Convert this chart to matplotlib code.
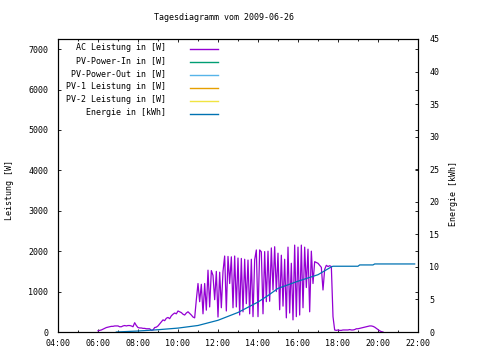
import numpy as np
import matplotlib
matplotlib.use("Agg")
import matplotlib.pyplot as plt
from matplotlib.lines import Line2D
from matplotlib.ticker import MultipleLocator, FuncFormatter

# AC power in W, one value every 5 minutes from 06:00 to 20:15
ac_start_hour = 6.0
ac_watts = [
    30, 40, 50, 70, 90, 110, 120, 130, 140, 140, 150, 150,            # 06
    150, 130, 130, 150, 160, 150, 160, 160, 150, 130, 230, 160,       # 07
    110, 100, 100, 90, 90, 80, 80, 80, 40, 50, 110, 120,              # 08
    150, 200, 250, 300, 280, 340, 360, 330, 400, 440, 470, 450,       # 09
    520, 500, 480, 440, 420, 470, 500, 460, 420, 370, 350, 800,       # 10
    1200, 750, 1180, 450, 1200, 540, 1530, 620, 1520, 1400, 800, 1500,  # 11
    370, 1480, 600, 1500, 1880, 520, 1870, 1200, 1860, 600, 1880, 620,  # 12
    1830, 420, 1820, 500, 1800, 700, 1780, 450, 1800, 380, 1790, 2030,  # 13
    380, 2030, 1985, 450, 1990, 750, 2000, 760, 2080, 1040, 2110, 1000,  # 14
    1950, 550, 1900, 640, 1800, 350, 2100, 470, 1700, 300, 2150, 380,   # 15
    2100, 420, 2150, 600, 2100, 1100, 2050, 500, 2000, 1200, 1740, 1720,  # 16
    1700, 1650, 1600, 1040, 1550, 1650, 1620, 1640, 1620, 380, 50, 40,  # 17
    50, 40, 40, 50, 50, 50, 50, 60, 50, 50, 60, 80,                   # 18
    80, 90, 100, 110, 120, 130, 140, 150, 150, 140, 120, 90,          # 19
    60, 30, 10, 0,                                                    # 20
]

# cumulative energy in kWh
energy_times = ["06:55", "08:00", "09:00", "10:00", "11:00", "12:00", "13:00",
                "14:00", "14:30", "15:00", "16:00", "17:00", "17:40", "17:45",
                "19:00", "19:05", "19:45", "19:50", "21:50"]
energy_kwh = [0.0, 0.15, 0.35, 0.6, 1.0, 1.8, 3.0,
              4.6, 5.6, 6.7, 7.8, 8.8, 10.0, 10.1,
              10.1, 10.3, 10.3, 10.45, 10.45]

legend_labels = ["AC Leistung in [W]", "PV-Power-In in [W]", "PV-Power-Out in [W]",
                 "PV-1 Leistung in [W]", "PV-2 Leistung in [W]", "Energie in [kWh]"]
legend_colors = ["#9400d3", "#009e73", "#56b4e9", "#e69f00", "#f0e442", "#0072b2"]


def to_hours(s):
    h, m = s.split(":")
    return int(h) + int(m) / 60.0


ac_hours = ac_start_hour + np.arange(len(ac_watts)) * 5 / 60.0
e_hours = [to_hours(t) for t in energy_times]

W, H = 480, 360
mono = "DejaVu Sans Mono"
fs = 6

fig = plt.figure(figsize=(4.8, 3.6), dpi=100)
ax = fig.add_axes([58 / W, 1 - 332 / H, 360 / W, 293 / H])
ax2 = ax.twinx()

ax.plot(ac_hours, ac_watts, color=legend_colors[0], lw=0.9)
ax2.plot(e_hours, energy_kwh, color=legend_colors[5], lw=0.9)

ax.set_xlim(4, 22)
ax.set_ylim(0, 7250)
ax2.set_ylim(0, 45)

ax.xaxis.set_major_locator(MultipleLocator(2))
ax.xaxis.set_minor_locator(MultipleLocator(1))
ax.xaxis.set_major_formatter(FuncFormatter(lambda v, p: "%02d:00" % int(round(v))))
ax.yaxis.set_major_locator(MultipleLocator(1000))
ax2.yaxis.set_major_locator(MultipleLocator(5))

ax.tick_params(axis="x", which="both", direction="in", top=True, labelsize=fs, pad=5)
ax.tick_params(axis="x", which="major", length=2.5, width=0.6)
ax.tick_params(axis="x", which="minor", length=1.5, width=0.6)
ax.tick_params(axis="y", direction="in", right=True, length=2.5, width=0.6,
               labelsize=fs, pad=7)
ax2.tick_params(axis="y", direction="in", length=2.5, width=0.6, labelsize=fs, pad=8)

for a in (ax, ax2):
    for sp in a.spines.values():
        sp.set_linewidth(0.8)
    for lab in a.get_xticklabels() + a.get_yticklabels():
        lab.set_family(mono)

fig.text(224 / W, 1 - 18 / H, "Tagesdiagramm vom 2009-06-26", family=mono,
         fontsize=fs, ha="center", va="center")
fig.text(10 / W, 1 - 190 / H, "Leistung [W]", family=mono, fontsize=fs,
         rotation=90, ha="center", va="center")
fig.text(453 / W, 1 - 193 / H, "Energie [kWh]", family=mono, fontsize=fs,
         rotation=90, ha="center", va="center")

# gnuplot style key: text right aligned, sample line on the right
for i, (lab, col) in enumerate(zip(legend_labels, legend_colors)):
    y = 49.3 + i * 12.9
    fig.text(166 / W, 1 - (y - 1.5) / H, lab, family=mono, fontsize=fs,
             ha="right", va="center")
    fig.add_artist(Line2D([190 / W, 218 / W], [1 - y / H, 1 - y / H],
                          transform=fig.transFigure, color=col, lw=1.0))

fig.savefig("out.png", dpi=100)
